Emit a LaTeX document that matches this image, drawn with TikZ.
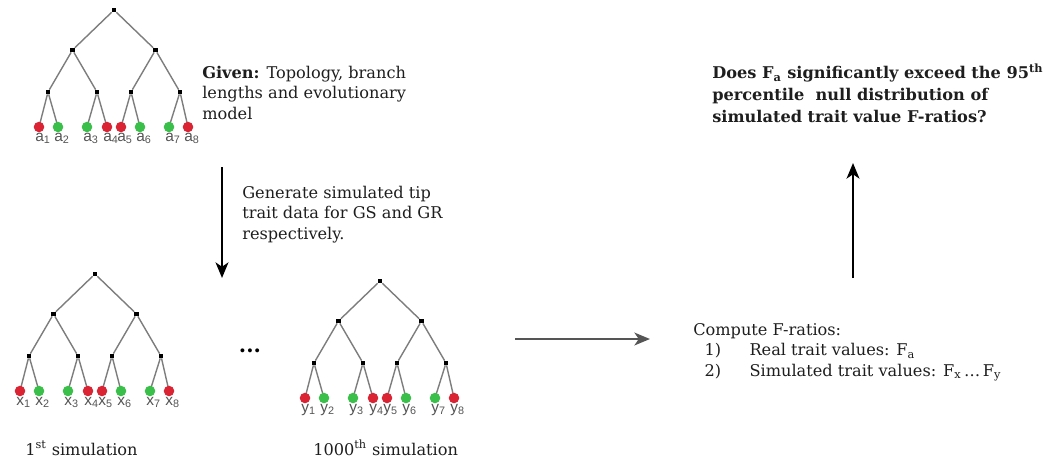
\documentclass[tikz,border=0pt]{standalone}
\usepackage{fontspec}
\setmainfont{DejaVu Serif}
\newfontfamily\tipfont{Liberation Sans}
\usepackage{xcolor}
\definecolor{tipred}{RGB}{218,36,52}
\definecolor{tipgreen}{RGB}{58,192,74}
\definecolor{twig}{RGB}{125,125,125}
\definecolor{ink}{RGB}{30,30,30}
\definecolor{slate}{RGB}{85,85,85}
\usetikzlibrary{arrows.meta,positioning}

%% one eight-tip tree: #1 name, #2,#3 root, #4 tip letter
\newcommand{\simtree}[4]{%
  \begin{scope}[shift={(#2,#3)}]
    \node[knot](#1) at (0,0) {};
    \node[knot](#1-1) at (-41.5,40) {};
    \node[knot](#1-2) at (41.5,40) {};
    \draw[twigline] (#1)--(#1-1);
    \draw[twigline] (#1)--(#1-2);
    \foreach \k/\dx/\p in {1/-66/1, 2/-17/1, 3/17/2, 4/66/2}{%
      \node[knot](#1-c\k) at (\dx,82) {};
      \draw[twigline] (#1-\p)--(#1-c\k);
    }
    \foreach \i/\dx/\col/\k in {1/-75/tipred/1, 2/-56/tipgreen/1,
        3/-27/tipgreen/2, 4/-7/tipred/2, 5/7/tipred/3,
        6/26/tipgreen/3, 7/55/tipgreen/4, 8/74/tipred/4}{%
      \draw[twigline] (#1-c\k)--(\dx,117);
      \node[tip,fill=\col](#1-t\i) at (\dx,117) {};
      \node[tiplabel,anchor=base west](#1-n\i) at (\dx-4,131)
        {#4\textsubscript{\i}};
    }
  \end{scope}}

\begin{document}
\begin{tikzpicture}[
  x=0.025cm, y=-0.025cm,
  knot/.style={rectangle,fill=black,inner sep=0pt,minimum size=3pt},
  tip/.style={circle,inner sep=0pt,minimum size=7.5pt},
  twigline/.style={draw=twig,line width=1pt},
  tiplabel/.style={font=\tipfont\fontsize{11}{11}\selectfont,text=slate,inner sep=0pt},
  note/.style={align=left,inner sep=0pt,text=ink,
               font=\fontsize{11.5}{14.3}\selectfont},
  flow/.style={-{Stealth[length=11pt,width=9pt,inset=3pt]},line width=2pt},
]
  \useasboundingbox (0,0) rectangle (1052,463);

  %% observed tree
  \simtree{obs}{114}{10}{a}
  %% base anchor sits on the last line of a multi-line note
  \node[note,anchor=base west](given) at (202,119)
    {\textbf{Given:} Topology, branch\\lengths and evolutionary\\model};

  %% simulation step
  \coordinate (gen-top) at (222,167);
  \coordinate (gen-end) at (222,278);
  \draw[flow] (gen-top) -- (gen-end);
  \node[note,anchor=base west](gen) at (242,239)
    {Generate simulated tip\\trait data for GS and GR\\respectively.};

  %% simulated trees
  \simtree{first}{95}{274}{x}
  \simtree{last}{380}{281}{y}
  \node[font=\bfseries\fontsize{15}{15}\selectfont,inner sep=0pt](dots) at (250,351) {...};
  \node[note,anchor=base west](first-cap) at (25,455) {1\textsuperscript{st} simulation};
  \node[note,anchor=base west](last-cap) at (313,455) {1000\textsuperscript{th} simulation};

  %% ratios and test
  \coordinate (cmp-from) at (515,339);
  \coordinate (cmp-to) at (650,339);
  \draw[flow,slate] (cmp-from) -- (cmp-to);
  \node[note,anchor=base west](ratios) at (693,376)
    {Compute F-ratios:\\
     \hspace*{8pt}\makebox[32pt][l]{1)}Real trait values: F\textsubscript{a}\\
     \hspace*{8pt}\makebox[32pt][l]{2)}Simulated trait values: F\textsubscript{x}\,\dots\,F\textsubscript{y}};
  \coordinate (test-from) at (853,278);
  \coordinate (test-to) at (853,163);
  \draw[flow] (test-from) -- (test-to);
  \node[note,anchor=base west,font=\bfseries\fontsize{11.5}{15.3}\selectfont](query) at (712,122)
    {Does F\textsubscript{a} significantly exceed the 95\textsuperscript{th}\\
     percentile\ \ null distribution of\\
     simulated trait value F-ratios?};
\end{tikzpicture}
\end{document}
